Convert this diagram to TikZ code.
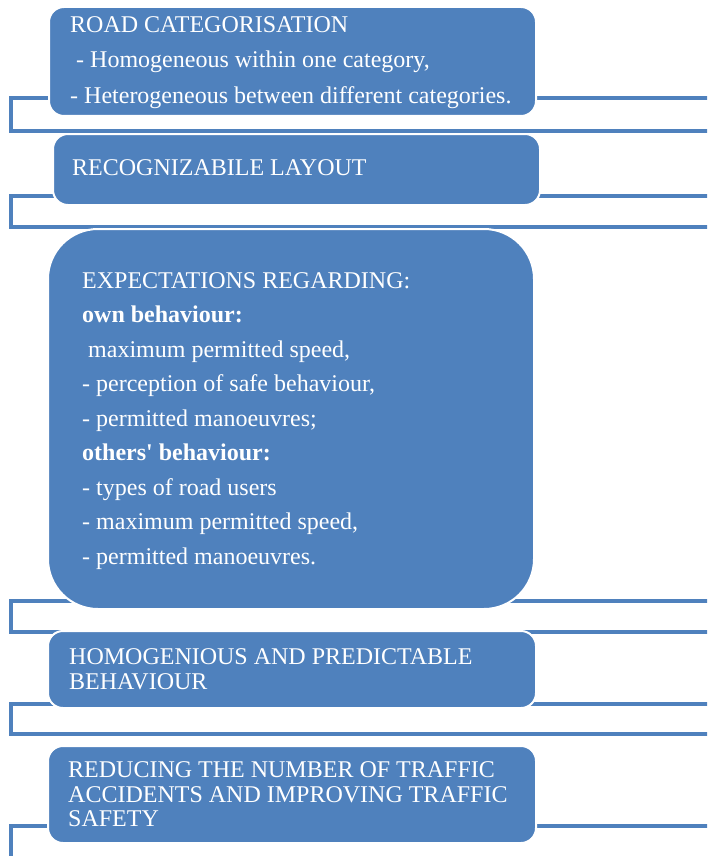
\documentclass[tikz,border=0pt]{standalone}
\usepackage{fontspec}
\setmainfont{Liberation Serif}
\definecolor{boxblue}{HTML}{4F81BD}
\begin{document}
\begin{tikzpicture}[x=1pt,y=-1pt,
  box/.style={fill=boxblue,draw=white,line width=2pt,anchor=north west,inner sep=0pt,rounded corners=15pt},
  bracket/.style={draw=boxblue,line width=4.5pt},
  txt/.style={anchor=base west,inner sep=0pt,text=white,font=\fontsize{24}{35}\selectfont}]
\clip (0,0) rectangle (707,856);
\fill[white] (0,0) rectangle (707,856);
% brackets
\draw[bracket] (11,98) rectangle (730,131);
\draw[bracket] (11,196) rectangle (730,227);
\draw[bracket] (11,601) rectangle (730,632);
\draw[bracket] (11,704) rectangle (730,734);
\draw[bracket] (11,826) rectangle (730,858);
% boxes
\node[box,minimum width=487pt,minimum height=109pt] (b1) at (48,6) {};
\node[box,minimum width=487pt,minimum height=71pt] (b2) at (52,133) {};
\node[box,minimum width=486pt,minimum height=380pt,rounded corners=50pt] (b3) at (47,228) {};
\node[box,minimum width=488pt,minimum height=77pt] (b4) at (47,630) {};
\node[box,minimum width=488pt,minimum height=97pt] (b5) at (47,745) {};
% texts
\node[txt] (t1a) at (70,33) {ROAD CATEGORISATION};
\node[txt] (t1b) at (76,68) {- Homogeneous within one category,};
\node[txt] (t1c) at (70,103) {- Heterogeneous between different categories.};
\node[txt] (t2a) at (72,175) {RECOGNIZABILE LAYOUT};
\node[txt] (t3a) at (82,288) {EXPECTATIONS REGARDING:};
\node[txt,font=\fontsize{24}{35}\selectfont\bfseries] (t3b) at (82,322.5) {own behaviour:};
\node[txt] (t3c) at (88,357) {maximum permitted speed,};
\node[txt] (t3d) at (82,391.5) {- perception of safe behaviour,};
\node[txt] (t3e) at (82,426) {- permitted manoeuvres;};
\node[txt,font=\fontsize{24}{35}\selectfont\bfseries] (t3f) at (82,460.5) {others\textquotesingle\ behaviour:};
\node[txt] (t3g) at (82,495) {- types of road users};
\node[txt] (t3h) at (82,529.5) {- maximum permitted speed,};
\node[txt] (t3i) at (82,564) {- permitted manoeuvres.};
\node[txt] (t4a) at (69,664) {HOMOGENIOUS AND PREDICTABLE};
\node[txt] (t4b) at (69,689) {BEHAVIOUR};
\node[txt] (t5a) at (68,777) {REDUCING THE NUMBER OF TRAFFIC};
\node[txt] (t5b) at (68,802) {ACCIDENTS AND IMPROVING TRAFFIC};
\node[txt] (t5c) at (68,826) {SAFETY};
\end{tikzpicture}
\end{document}
